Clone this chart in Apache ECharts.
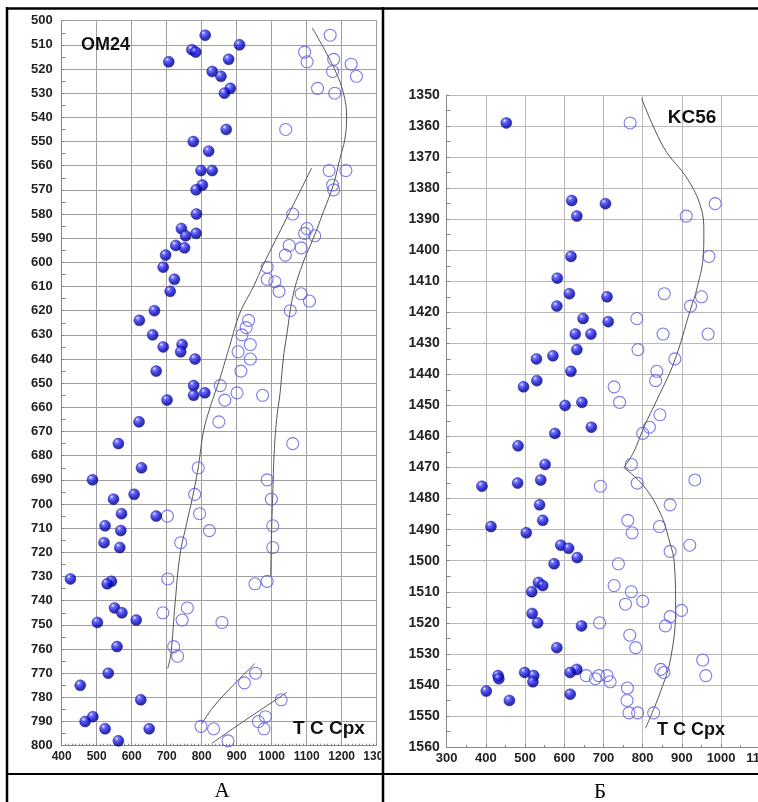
<!DOCTYPE html>
<html>
<head>
<meta charset="utf-8">
<script src="https://cdn.jsdelivr.net/npm/echarts@6/dist/echarts.min.js"></script>
<style>
html,body{margin:0;padding:0;background:#fff;overflow:hidden;}
#c{width:800px;height:802px;}
</style>
</head>
<body>
<div id="c"></div>
<script>
// ---- Panel A (OM24): [T °C, depth] ----
const omFilled = [[810,506],[908,510],[772,512],[783,513],[706,517],[877,516],[830,521],[855,523],[882,528],[865,530],[870,545],[776,550],[820,554],[798,562],[830,562],[802,568],[784,570],[785,580],[742,586],[754,589],[784,588],[726,593],[751,594],[697,597],
[690,602],[722,607],[710,612],[665,620],[622,624],[660,630],[690,635],[744,634],[740,637],[781,640],[670,645],[777,651],[777,655],[809,654],[701,657],[621,666],[562,675],[628,685],[488,690],[548,698],[607,696],[571,704],[670,705],
[524,709],[569,711],[521,716],[566,718],[425,731],[542,732],[530,733],[551,743],[572,745],[502,749],[613,748],[558,759],[533,770],[453,775],[626,781],[467,790],[489,788],[524,793],[650,793],[562,798]];
const omOpen = [[1167,506],[1094,513],[1101,517],[1177,516],[1174,521],[1227,518],[1242,523],[1131,528],[1180,530],[1040,545],[1164,562],[1212,562],[1174,568],[1177,570],[1060,580],[1101,586],[1094,588],[1123,589],[1050,593],[1084,594],[1039,597],
[987,602],[987,607],[1009,608],[1021,612],[1084,613],[1108,616],[1053,620],[934,624],[927,627],[915,630],[939,634],[904,637],[939,640],[912,645],[853,651],[866,657],[901,654],[974,655],[849,666],[1060,675],[790,685],[987,690],[999,698],[780,696],[794,704],[702,705],
[822,711],[1003,709],[1003,718],[740,716],[703,731],[952,733],[987,732],[689,745],[759,743],[744,748],[858,749],[720,759],[731,763],[922,774],[954,770],[1027,781],[798,792],[834,793],[962,790],[982,788],[978,793],[875,798]];
const omCurve1 = [[1116,503],[1176,519],[1205,530],[1214,540],[1209,549],[1195,557],[1176,568],[1148,579],[1119,590],[1090,600],[1062,613],[1043,630],[1033,640],[1024,654],[1014,665],[1007,679],[1003,696],[1000,710],[997,730]];
const omCurve2 = [[1114,561],[1045,581],[976,601],[948,610],[909,621],[881,634],[852,648],[824,660],[805,670],[791,684],[777,695],[757,708],[738,721],[724,741],[712,762],[703,768]];
const omCurve3 = [[800,791],[833,784],[890,775],[952,766]];
const omCurve4 = [[829,799],[929,789],[1043,778]];
const omXTicks = [400,1300,100];
const omYTicks = [500,800,10];

// ---- Panel Б (KC56) ----
const kcFilled = [[452,1359],[619,1384],[705,1385],[632,1389],[617,1402],[582,1409],[613,1414],[709,1415],[581,1418],
[648,1422],[712,1423],[628,1427],[668,1427],[632,1432],[571,1434],[529,1435],[617,1439],[530,1442],[496,1444],[645,1449],[602,1450],[669,1457],[576,1459],[482,1463],[551,1469],[540,1474],[390,1476],[481,1475],[537,1482],[545,1487],[413,1489],[503,1491],[591,1495],
[611,1496],[633,1499],[574,1501],[534,1507],[545,1508],[517,1510],[518,1517],[532,1520],[644,1521],[581,1528],[499,1536],[431,1537],[433,1538],[522,1537],[520,1539],[632,1535],[615,1536],[401,1542],[460,1545],[615,1543]];
const kcOpen = [[768,1359],[985,1385],[911,1389],[969,1402],[855,1414],[950,1415],[922,1418],
[785,1422],[852,1427],[967,1427],[788,1432],[882,1435],[836,1439],[833,1442],[727,1444],[741,1449],[844,1453],[817,1457],[800,1459],[771,1469],[933,1474],[786,1475],[692,1476],[870,1482],[762,1487],[843,1489],[773,1491],[920,1495],
[870,1497],[738,1501],[727,1508],[771,1510],[756,1514],[800,1513],[899,1516],[870,1518],[858,1521],[690,1520],[767,1524],[782,1528],[953,1532],[961,1537],[846,1535],[854,1536],[656,1537],[679,1538],[688,1537],[709,1537],[717,1539],[761,1541],[760,1545],[765,1549],[787,1549],[828,1549]];
const kcCurveA = [[797,1351],[854,1367],[914,1377],[948,1386],[956,1394],[955,1401],[939,1412],[922,1419],[880,1436],[837,1448],[803,1457],[777,1465],[752,1470]];
const kcCurveB = [[752,1470],[803,1476],[846,1485],[871,1495],[880,1500],[884,1515],[872,1531],[846,1542],[807,1554]];
const kcXTicks = [300,1100,100];
const kcYTicks = [1350,1560,10];

const chart = echarts.init(document.getElementById('c'), null, {renderer:'canvas'});
const ball = new echarts.graphic.RadialGradient(0.35,0.3,0.75,[
  {offset:0,color:'#f0f0ff'},{offset:0.22,color:'#4a4aff'},{offset:0.65,color:'#0000c0'},{offset:1,color:'#00005a'}]);
const FONT = '"Liberation Sans", Arial, sans-serif';
const plain = v => String(v);

function xAx(grid, t, fs, gc){
  return {gridIndex:grid, type:'value', min:t[0], max:t[1], interval:t[2],
    axisLine:{show:true, onZero:false, lineStyle:{color:'#888'}},
    axisTick:{show:true, inside:true, length:3, lineStyle:{color:'#888'}},
    minorTick:{show:true, splitNumber: grid===0?10:2, length:2, lineStyle:{color:'#888'}},
    splitLine:{show:true, lineStyle:{color:gc, width:1}},
    axisLabel:{fontSize:fs, fontWeight:'bold', color:'#222', fontFamily:FONT, margin:5, formatter:plain}};
}
function yAx(grid, t, fs, gc, m){
  return {gridIndex:grid, type:'value', inverse:true, min:t[0], max:t[1], interval:t[2],
    axisLine:{show:true, onZero:false, lineStyle:{color:'#888'}},
    axisTick:{show:true, inside:true, length:3, lineStyle:{color:'#888'}},
    minorTick:{show:true, splitNumber:2, length:4, lineStyle:{color:'#888'}},
    splitLine:{show:true, lineStyle:{color:gc, width:1}},
    axisLabel:{fontSize:fs, fontWeight:'bold', color:'#222', fontFamily:FONT, margin:m, formatter:plain}};
}
function curve(data, xi){
  return {type:'line', xAxisIndex:xi, yAxisIndex:xi, data:data, smooth:0.4, symbol:'none',
    lineStyle:{color:'#555', width:1}, z:2, silent:true};
}
function filled(data, xi){
  return {type:'scatter', xAxisIndex:xi, yAxisIndex:xi, data:data, symbol:'circle', symbolSize:11,
    itemStyle:{color:ball, borderColor:'#00007a', borderWidth:0.5}, z:4};
}
function open(data, xi){
  return {type:'scatter', xAxisIndex:xi, yAxisIndex:xi, data:data, symbol:'circle', symbolSize:12,
    itemStyle:{color:'rgba(255,255,255,0)', borderColor:'#5a5ae6', borderWidth:1.1}, z:3};
}

const option = {
  backgroundColor:'#fff',
  animation:false,
  grid:[
    {left:61.7, top:20.7, width:315, height:725},
    {left:446.7, top:95, width:313.6, height:652}
  ],
  xAxis:[xAx(0, omXTicks, 12, '#a0a0a0'), xAx(1, kcXTicks, 13, '#b8b8b8')],
  yAxis:[yAx(0, omYTicks, 13, '#a0a0a0', 9), yAx(1, kcYTicks, 14, '#b8b8b8', 7)],
  series:[
    curve(omCurve1,0), curve(omCurve2,0), curve(omCurve3,0), curve(omCurve4,0),
    open(omOpen,0), filled(omFilled,0),
    curve(kcCurveA,1), curve(kcCurveB,1),
    open(kcOpen,1), filled(kcFilled,1)
  ],
  graphic:[
    {type:'rect', z:100, shape:{x:381, y:749, width:22, height:20}, style:{fill:'#fff'}},
    {type:'line', z:101, shape:{x1:6, y1:8.5, x2:800, y2:8.5}, style:{stroke:'#000', lineWidth:2.5}},
    {type:'line', z:101, shape:{x1:7, y1:7, x2:7, y2:802}, style:{stroke:'#000', lineWidth:2.5}},
    {type:'line', z:101, shape:{x1:383, y1:7, x2:383, y2:802}, style:{stroke:'#000', lineWidth:2.5}},
    {type:'line', z:101, shape:{x1:6, y1:774, x2:800, y2:774}, style:{stroke:'#000', lineWidth:2}},
    {type:'text', z:101, style:{text:'OM24', x:81, y:45, font:'bold 18px '+FONT, fill:'#111', align:'left', verticalAlign:'middle'}},
    {type:'text', z:101, style:{text:'T C Cpx', x:329, y:729, font:'bold 19px '+FONT, fill:'#111', align:'center', verticalAlign:'middle'}},
    {type:'text', z:101, style:{text:'KC56', x:692, y:118, font:'bold 19px '+FONT, fill:'#111', align:'center', verticalAlign:'middle'}},
    {type:'text', z:101, style:{text:'T C Cpx', x:691, y:730, font:'bold 18px '+FONT, fill:'#111', align:'center', verticalAlign:'middle'}},
    {type:'text', z:101, style:{text:'А', x:222, y:791, font:'21px "Liberation Serif", "DejaVu Serif", serif', fill:'#000', align:'center', verticalAlign:'middle'}},
    {type:'text', z:101, style:{text:'Б', x:600, y:792, font:'21px "Liberation Serif", "DejaVu Serif", serif', fill:'#000', align:'center', verticalAlign:'middle'}}
  ]
};
chart.setOption(option);
</script>
</body>
</html>
